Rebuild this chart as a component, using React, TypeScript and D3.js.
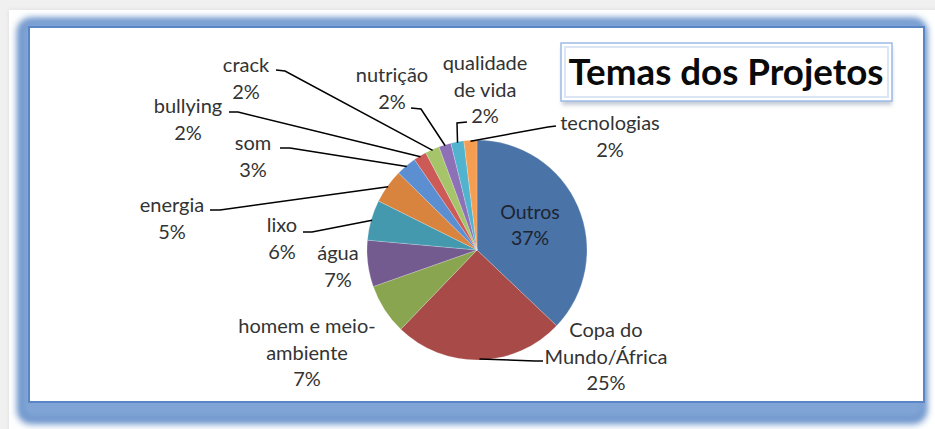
import React from "react";
import * as d3 from "d3";

const categories = [
  "Outros",
  "Copa do Mundo/África",
  "homem e meio-ambiente",
  "água",
  "lixo",
  "energia",
  "som",
  "bullying",
  "crack",
  "nutrição",
  "qualidade de vida",
  "tecnologias",
];
const values = [37, 25, 7.4, 6.8, 5.9, 5, 3, 1.9, 2.1, 1.8, 1.9, 1.9];
const percentLabels = ["37%", "25%", "7%", "7%", "6%", "5%", "3%", "2%", "2%", "2%", "2%", "2%"];
const colors = [
  "#4a73a8",
  "#a84b48",
  "#89a54f",
  "#735a8f",
  "#4599af",
  "#d9843e",
  "#5b8fd2",
  "#cc5a57",
  "#a6c56b",
  "#8d70b6",
  "#52b3cf",
  "#f59e52",
];
const title = "Temas dos Projetos";

// label layout: text lines, center x, first baseline y, label-side leader points
const labelLayout: { lines: string[]; x: number; y: number; leader: [number, number][] | null }[] = [
  { lines: ["Outros", "37%"], x: 530, y: 219, leader: null },
  { lines: ["Copa do", "Mundo/África", "25%"], x: 606, y: 337, leader: [[543, 361], [535, 361]] },
  { lines: ["homem e meio-", "ambiente", "7%"], x: 307, y: 333, leader: null },
  { lines: ["água", "7%"], x: 338, y: 260, leader: null },
  { lines: ["lixo", "6%"], x: 282, y: 232, leader: [[303, 232], [312, 232]] },
  { lines: ["energia", "5%"], x: 172, y: 212, leader: [[210, 210], [220, 210]] },
  { lines: ["som", "3%"], x: 253, y: 150, leader: [[280, 148], [290, 148]] },
  { lines: ["bullying", "2%"], x: 188, y: 113, leader: [[229, 112], [238, 112]] },
  { lines: ["crack", "2%"], x: 246, y: 72, leader: [[276, 70], [285, 71]] },
  { lines: ["nutrição", "2%"], x: 392, y: 82, leader: [[411, 108], [421, 109]] },
  { lines: ["qualidade", "de vida", "2%"], x: 485, y: 70, leader: [[467, 122], [457, 123]] },
  { lines: ["tecnologias", "2%"], x: 610, y: 130, leader: [[556, 126], [548, 127]] },
];

const W = 935;
const H = 429;
const cx = 477;
const cy = 250;
const R = 110;
const FONT = "Lato, 'Open Sans', 'DejaVu Sans', sans-serif";

export default function App() {
  const pie = d3
    .pie<number>()
    .sort(null)
    .value((d) => d)
    .startAngle(0)
    .endAngle(2 * Math.PI);
  const arcs = pie(values);
  const arc = d3.arc<d3.PieArcDatum<number>>().innerRadius(0).outerRadius(R);
  const edge = d3.arc<d3.PieArcDatum<number>>().innerRadius(R - 1).outerRadius(R - 1);
  const line = d3.line();

  return (
    <svg
      width={W}
      height={H}
      style={{ position: "absolute", left: 0, top: 0, display: "block" }}
      xmlns="http://www.w3.org/2000/svg"
    >
      <defs>
        <filter id="blur" x="-10%" y="-10%" width="120%" height="120%">
          <feGaussianBlur stdDeviation="3.5" />
        </filter>
        <filter id="pageShadow" x="-5%" y="-5%" width="110%" height="110%">
          <feGaussianBlur stdDeviation="2" />
        </filter>
        <filter id="titleShadow" x="-10%" y="-20%" width="120%" height="160%">
          <feGaussianBlur stdDeviation="2" />
        </filter>
      </defs>
      <rect x={0} y={0} width={W} height={H} fill="#f0f0f0" />
      <rect x={9} y={10} width={W} height={H} fill="#dcdcdc" filter="url(#pageShadow)" />
      <rect x={9} y={10} width={W} height={H} fill="#ffffff" />

      {/* blue glow frame */}
      <rect x={17} y={18} width={910} height={406} rx={14} fill="#6890c8" filter="url(#blur)" />
      <rect x={22} y={21} width={902} height={397} rx={10} fill="#80a4d6" filter="url(#blur)" />
      <rect x={29} y={27} width={895} height={375} fill="#ffffff" stroke="#5a86c5" strokeWidth={2} />

      {/* pie */}
      <g transform={`translate(${cx},${cy})`}>
        {arcs.map((a, i) => (
          <path key={categories[i]} d={arc(a) || ""} fill={colors[i]} stroke="#ffffff" strokeOpacity={0.35} strokeWidth={0.6} />
        ))}
      </g>

      {/* leader lines */}
      {arcs.map((a, i) => {
        const lay = labelLayout[i];
        if (!lay.leader) return null;
        const [ex, ey] = edge.centroid(a);
        const pts: [number, number][] = [...lay.leader, [cx + ex, cy + ey]];
        return <path key={"l" + i} d={line(pts) || ""} fill="none" stroke="#000" strokeWidth={1.5} />;
      })}

      {/* labels */}
      {labelLayout.map((lay, i) => (
        <text
          key={"t" + i}
          x={lay.x}
          y={lay.y}
          textAnchor="middle"
          fontFamily={FONT}
          fontSize={i === 0 ? 19.5 : 20}
          fill={i === 0 ? "#1e2430" : "#333333"}
        >
          {lay.lines.map((ln, j) => (
            <tspan key={j} x={lay.x} dy={j === 0 ? 0 : i === 0 ? 26 : 26.5}>
              {j === lay.lines.length - 1 ? percentLabels[i] : ln}
            </tspan>
          ))}
        </text>
      ))}

      {/* title box */}
      <rect x={562} y={47} width={330} height={58} fill="#9aa7b8" opacity={0.6} filter="url(#titleShadow)" />
      <rect x={561} y={43} width={331} height={58} fill="#ffffff" stroke="#9dbbe6" strokeWidth={1.5} />
      <rect x={565} y={47} width={323} height={50} fill="#ffffff" stroke="#dbe5f3" strokeWidth={2} />
      <text
        x={726}
        y={85}
        textAnchor="middle"
        fontFamily={FONT}
        fontWeight={700}
        fontSize={37}
        fill="#0a0a0a"
        textLength={315}
        lengthAdjust="spacingAndGlyphs"
      >
        {title}
      </text>
    </svg>
  );
}
